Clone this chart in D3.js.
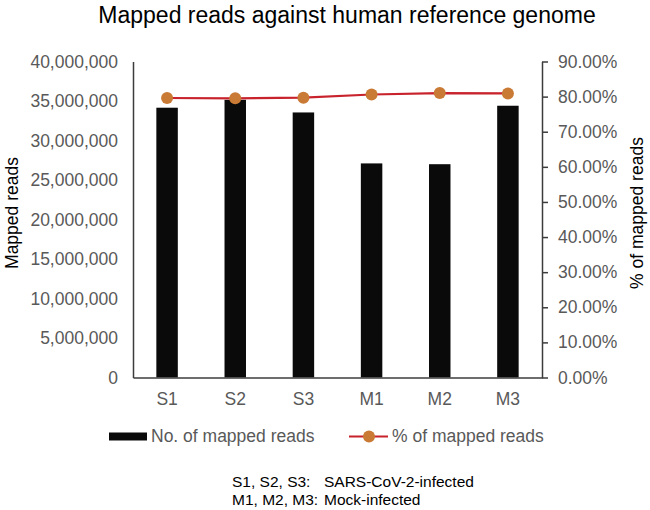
<!DOCTYPE html>
<html>
<head>
<meta charset="utf-8">
<script src="https://cdn.jsdelivr.net/npm/d3@7/dist/d3.min.js"></script>
<style>
  html, body { margin: 0; padding: 0; background: #fff; }
  svg { display: block; font-family: "Liberation Sans", Arial, sans-serif; }
</style>
</head>
<body>
<svg id="chart" width="650" height="510"></svg>
<script>
const categories = ["S1", "S2", "S3", "M1", "M2", "M3"];
const mappedReads = [34150000, 35150000, 33550000, 27100000, 27000000, 34400000];
const pctMapped = [0.796, 0.795, 0.797, 0.806, 0.810, 0.809];
const leftTicks = [0, 5000000, 10000000, 15000000, 20000000, 25000000, 30000000, 35000000, 40000000];
const rightTicks = [0, 0.1, 0.2, 0.3, 0.4, 0.5, 0.6, 0.7, 0.8, 0.9];
const titleText = "Mapped reads against human reference genome";
const leftTitle = "Mapped reads";
const rightTitle = "% of mapped reads";
const legendLabels = ["No. of mapped reads", "% of mapped reads"];
const footLabels = ["S1, S2, S3:", "M1, M2, M3:"];
const footDescs = ["SARS-CoV-2-infected", "Mock-infected"];

const svg = d3.select("#chart");
const L = 133, R = 542, T = 61.5, B = 377.5;
const gray = "#595959", axisCol = "#3c3c3c";

const x = d3.scaleBand().domain(categories).range([L, R]).paddingInner(0.685).paddingOuter(0.3425);
const yL = d3.scaleLinear().domain([0, 40000000]).range([B, T]);
const yR = d3.scaleLinear().domain([0, 0.9]).range([B, T]);

// title
svg.append("text").attr("x", 347).attr("y", 23).attr("text-anchor", "middle")
  .attr("font-size", 23).attr("fill", "#000").text(titleText);

// bars
svg.append("g").selectAll("rect").data(categories).join("rect")
  .attr("x", d => x(d)).attr("width", x.bandwidth())
  .attr("y", (d, i) => yL(mappedReads[i]))
  .attr("height", (d, i) => B - yL(mappedReads[i]))
  .attr("fill", "#0a0a0a");

// left axis
const gL = svg.append("g").attr("transform", `translate(${L},0)`)
  .call(d3.axisLeft(yL).tickValues(leftTicks).tickFormat(d3.format(",")).tickSize(0).tickPadding(15));
gL.select(".domain").attr("stroke", axisCol).attr("stroke-width", 1.5);
gL.selectAll("text").attr("font-size", 17.5).attr("fill", gray).attr("font-family", "Liberation Sans, Arial, sans-serif");

// right axis
const gR = svg.append("g").attr("transform", `translate(${R},0)`)
  .call(d3.axisRight(yR).tickValues(rightTicks).tickFormat(d3.format(".2%")).tickSize(6).tickSizeOuter(0).tickPadding(10));
gR.select(".domain").attr("stroke", axisCol).attr("stroke-width", 1.5);
gR.selectAll("line").attr("stroke", axisCol).attr("stroke-width", 1.5);
gR.selectAll("text").attr("font-size", 17.5).attr("fill", gray).attr("font-family", "Liberation Sans, Arial, sans-serif");

// bottom axis
const gB = svg.append("g").attr("transform", `translate(0,${B})`)
  .call(d3.axisBottom(x).tickSize(0).tickPadding(15).tickSizeOuter(0));
gB.select(".domain").attr("stroke", axisCol).attr("stroke-width", 1.5);
gB.selectAll("text").attr("font-size", 17.5).attr("fill", gray).attr("font-family", "Liberation Sans, Arial, sans-serif");

// line + markers
const cx = d => x(d) + x.bandwidth() / 2;
const line = d3.line().x((d, i) => cx(categories[i])).y(d => yR(d));
svg.append("path").datum(pctMapped).attr("d", line)
  .attr("fill", "none").attr("stroke", "#c8232c").attr("stroke-width", 2.2);
svg.append("g").selectAll("circle").data(pctMapped).join("circle")
  .attr("cx", (d, i) => cx(categories[i])).attr("cy", d => yR(d)).attr("r", 6)
  .attr("fill", "#c97a35");

// axis titles
svg.append("text").attr("transform", "translate(18,213) rotate(-90)").attr("text-anchor", "middle")
  .attr("font-size", 17.5).attr("fill", "#000").text(leftTitle);
svg.append("text").attr("transform", "translate(643,213) rotate(-90)").attr("text-anchor", "middle")
  .attr("font-size", 17.5).attr("fill", "#000").text(rightTitle);

// legend
const lg = svg.append("g");
lg.append("rect").attr("x", 109).attr("y", 432.5).attr("width", 38).attr("height", 8).attr("fill", "#0a0a0a");
lg.append("text").attr("x", 151).attr("y", 442).attr("font-size", 17.5).attr("fill", gray).text(legendLabels[0]);
lg.append("line").attr("x1", 349).attr("x2", 388).attr("y1", 436.5).attr("y2", 436.5)
  .attr("stroke", "#c8232c").attr("stroke-width", 2.2);
lg.append("circle").attr("cx", 369).attr("cy", 436.5).attr("r", 6).attr("fill", "#c97a35");
lg.append("text").attr("x", 392).attr("y", 442).attr("font-size", 17.5).attr("fill", gray).text(legendLabels[1]);

// footnote
const fy = [486.5, 505];
footLabels.forEach((t, i) => {
  svg.append("text").attr("x", 232).attr("y", fy[i]).attr("font-size", 15.5).attr("fill", "#000").text(t);
  svg.append("text").attr("x", 324).attr("y", fy[i]).attr("font-size", 15.5).attr("fill", "#000").text(footDescs[i]);
});
</script>
</body>
</html>
